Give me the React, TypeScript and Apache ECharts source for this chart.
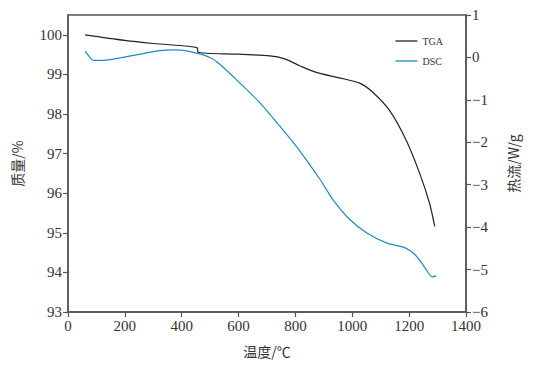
import React, { useEffect, useRef } from "react";
import * as echarts from "echarts";

const tgaTemps = [60, 200, 300, 455, 457, 600, 710, 760, 815, 874, 950, 1026, 1072, 1131, 1190, 1237, 1272, 1290];
const tgaMass = [100.0, 99.86, 99.78, 99.67, 99.56, 99.51, 99.47, 99.40, 99.22, 99.05, 98.92, 98.78, 98.55, 98.09, 97.33, 96.5, 95.74, 95.16];

const dscTemps = [60, 75, 89, 110, 148, 206, 264, 323, 369, 400, 440, 499, 534, 604, 675, 745, 815, 885, 932, 991, 1050, 1120, 1190, 1225, 1260, 1281, 1295];
const dscFlow = [0.14, 0.02, -0.07, -0.07, -0.05, 0.02, 0.09, 0.16, 0.18, 0.17, 0.12, 0.0, -0.16, -0.6, -1.07, -1.62, -2.2, -2.86, -3.35, -3.82, -4.13, -4.37, -4.5, -4.68, -5.0, -5.17, -5.15];

const seriesNames = ["TGA", "DSC"];
const xName = "温度/℃";
const yLeftName = "质量/%";
const yRightName = "热流/W/g";

const AXIS_COLOR = "#555";
const LABEL_FONT = "serif";
const CJK_FONT = "Noto Sans CJK SC";

export default function App() {
  const ref = useRef<HTMLDivElement>(null);
  useEffect(() => {
    if (!ref.current) return;
    const chart = echarts.init(ref.current, undefined, { renderer: "svg" });
    const axisCommon = {
      axisLine: { show: true, onZero: false, lineStyle: { color: AXIS_COLOR, width: 1.5 } },
      axisTick: { show: true, inside: false, length: 5, lineStyle: { color: AXIS_COLOR, width: 1.2 } },
      splitLine: { show: false },
      nameTextStyle: { color: "#333", fontFamily: CJK_FONT, fontSize: 14 },
    };
    const labelCommon = {
      color: "#333",
      fontFamily: LABEL_FONT,
      fontSize: 15,
      margin: 6,
      showMaxLabel: false,
      formatter: (v: number) => String(v).replace("-", "\u2212"),
    };
    chart.setOption({
      animation: false,
      backgroundColor: "#fff",
      grid: { left: 68, right: 74, top: 15, bottom: 58, show: true, borderColor: AXIS_COLOR, borderWidth: 1.5, containLabel: false },
      legend: {
        orient: "vertical",
        right: 92,
        top: 31,
        icon: "rect",
        itemWidth: 22,
        itemHeight: 1.3,
        itemGap: 10,
        data: seriesNames,
        textStyle: { fontFamily: "Liberation Sans Narrow", fontSize: 10, color: "#333" },
      },
      xAxis: {
        type: "value",
        min: 0,
        max: 1400,
        interval: 200,
        name: xName,
        nameLocation: "middle",
        nameGap: 32,
        ...axisCommon,
        axisLabel: { ...labelCommon, showMaxLabel: true },
      },
      yAxis: [
        {
          type: "value",
          position: "left",
          min: 93,
          max: 100.5,
          interval: 1,
          name: yLeftName,
          nameLocation: "middle",
          nameGap: 44,
          ...axisCommon,
          axisLabel: labelCommon,
        },
        {
          type: "value",
          position: "right",
          min: -6,
          max: 1,
          interval: 1,
          name: yRightName,
          nameLocation: "middle",
          nameGap: 40,
          nameRotate: 90,
          ...axisCommon,
          axisLabel: { ...labelCommon, showMaxLabel: true },
        },
      ],
      series: [
        {
          name: seriesNames[0],
          type: "line",
          yAxisIndex: 0,
          symbol: "none",
          smooth: 0.3,
          lineStyle: { color: "#222", width: 1.2 },
          itemStyle: { color: "#222" },
          data: tgaTemps.map((t, i) => [t, tgaMass[i]]),
        },
        {
          name: seriesNames[1],
          type: "line",
          yAxisIndex: 1,
          symbol: "none",
          smooth: 0.3,
          lineStyle: { color: "#1a8ccc", width: 1.2 },
          itemStyle: { color: "#1a8ccc" },
          data: dscTemps.map((t, i) => [t, dscFlow[i]]),
        },
      ],
    });
    return () => chart.dispose();
  }, []);
  return <div ref={ref} style={{ position: "fixed", left: 0, top: 0, width: 540, height: 370 }} />;
}
